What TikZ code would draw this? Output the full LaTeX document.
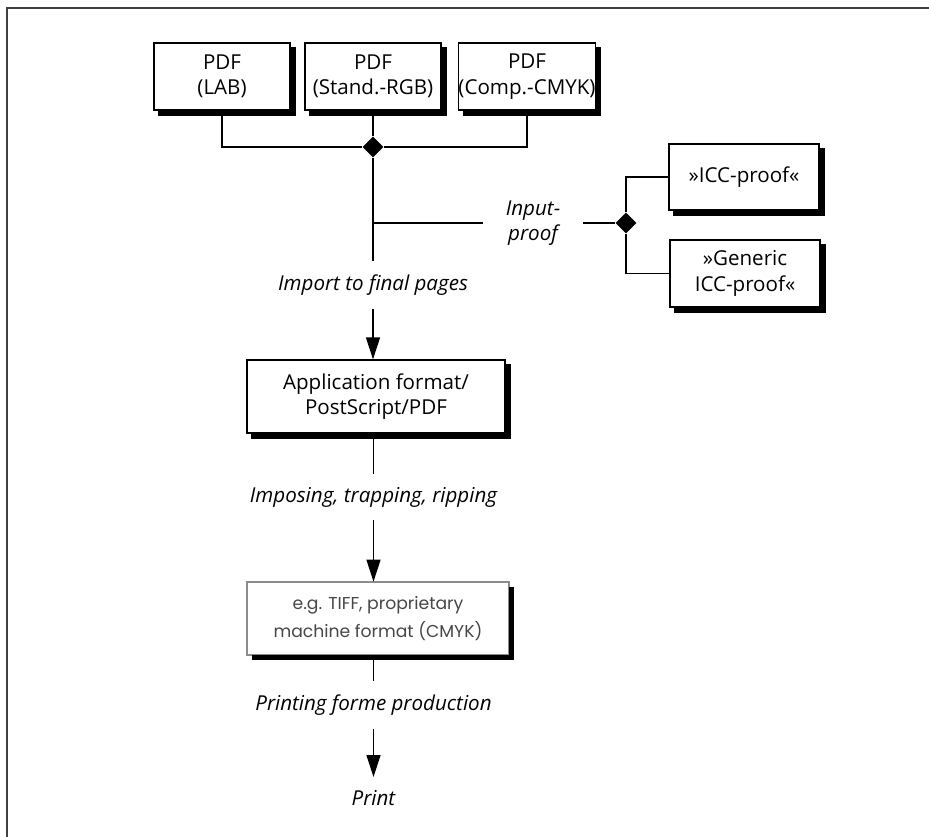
\documentclass[tikz,border=0pt]{standalone}
\usepackage{fontspec}
\setmainfont{Open Sans}
\newfontfamily\geofont{Poppins}
\usetikzlibrary{arrows.meta,positioning,shapes.geometric}

\begin{document}
\begin{tikzpicture}[
  font=\fontsize{11.7}{14.5}\selectfont,
  pbox/.style={draw, line width=0.7pt, fill=white, align=center, inner sep=0pt},
  junction/.style={diamond, fill=black, minimum size=0.42cm, inner sep=0pt},
  stage/.style={font=\fontsize{11.7}{14.5}\selectfont\itshape, inner ysep=0.26cm},
  flow/.style={line width=0.7pt},
  arr/.style={flow, -{Triangle[length=0.44cm, width=0.28cm]}}
]
  \useasboundingbox (0,0) rectangle (18.58,-16.74);
  \draw[line width=1.1pt, black!75](0.14,-16.74)--(0.14,-0.16)--(18.58,-0.16);
  % sources
  \node[pbox, minimum width=2.72cm, minimum height=1.34cm](lab) at (4.44,-1.53){PDF\\(LAB)};
  \node[pbox, minimum width=2.72cm, minimum height=1.34cm](rgb) at (7.46,-1.53){PDF\\(Stand.-RGB)};
  \node[pbox, minimum width=2.72cm, minimum height=1.34cm](cmyk) at (10.54,-1.53){PDF\\(Comp.-CMYK)};
  \node[junction](j1) at (7.46,-2.94){};
  \draw[flow](lab.south)|-(j1.west);
  \draw[flow](cmyk.south)|-(j1.east);
  \draw[flow](rgb.south)--(j1.north);
  % proof branch
  \coordinate(fork) at (7.46,-4.46);
  \node[stage](imp) at (7.46,-5.7){Import to final pages};
  \draw[flow](j1.south)--(imp.north);
  \node[stage, align=center, inner xsep=0.45cm, inner ysep=0pt](inp) at (10.66,-4.46){Input-\\proof};
  \draw[flow](fork)--(inp.west);
  \node[junction](j2) at (12.52,-4.46){};
  \draw[flow](inp.east)--(j2.west);
  \node[pbox, minimum width=3cm, minimum height=1.32cm](icc) at (14.88,-3.54){»ICC-proof«};
  \node[pbox, minimum width=3cm, minimum height=1.34cm](gen) at (14.9,-5.47){»Generic\\ICC-proof«};
  \draw[flow](j2.north)|-(icc.west);
  \draw[flow](j2.south)|-(gen.west);
  % production chain
  \node[pbox, minimum width=5.16cm, minimum height=1.46cm](app) at (7.52,-7.93){Application format/\\PostScript/PDF};
  \draw[arr](imp.south)--(imp.south |- app.north);
  \node[stage](ipt) at (7.47,-9.94){Imposing, trapping, ripping};
  \draw[flow](ipt.north |- app.south)--(ipt.north);
  \coordinate(ripc) at (7.56,-12.37);
  \draw[line width=0.7pt, black!45, fill=white]([shift={(-2.62,-0.73)}]ripc) rectangle ([shift={(2.62,0.73)}]ripc);
  \node[font=\geofont\fontsize{9.8}{15.5}\selectfont, text=black!72, align=center,
    minimum width=5.24cm, minimum height=1.46cm, inner sep=0pt](tiff) at (ripc){e.g. TIFF, proprietary\\machine format (CMYK)};
  \draw[arr](ipt.south)--(ipt.south |- tiff.north);
  \node[stage](pfp) at (7.47,-14.1){Printing forme production};
  \draw[flow](pfp.north |- tiff.south)--(pfp.north);
  \node[stage](prn) at (7.47,-15.96){Print};
  \draw[arr](pfp)--(prn);
  % box shadows
  \foreach \b in {lab,rgb,cmyk,icc,gen,app}{
    \fill[black]([yshift=-0.1cm]\b.north east) rectangle ([shift={(0.1cm,-0.1cm)}]\b.south east);
    \fill[black]([xshift=0.1cm]\b.south west) rectangle ([shift={(0.1cm,-0.1cm)}]\b.south east);
  }
  \draw[line width=0.1cm, draw=black]([shift={(2.67,0.63)}]ripc)|-([shift={(-2.52,-0.78)}]ripc);
\end{tikzpicture}
\end{document}
